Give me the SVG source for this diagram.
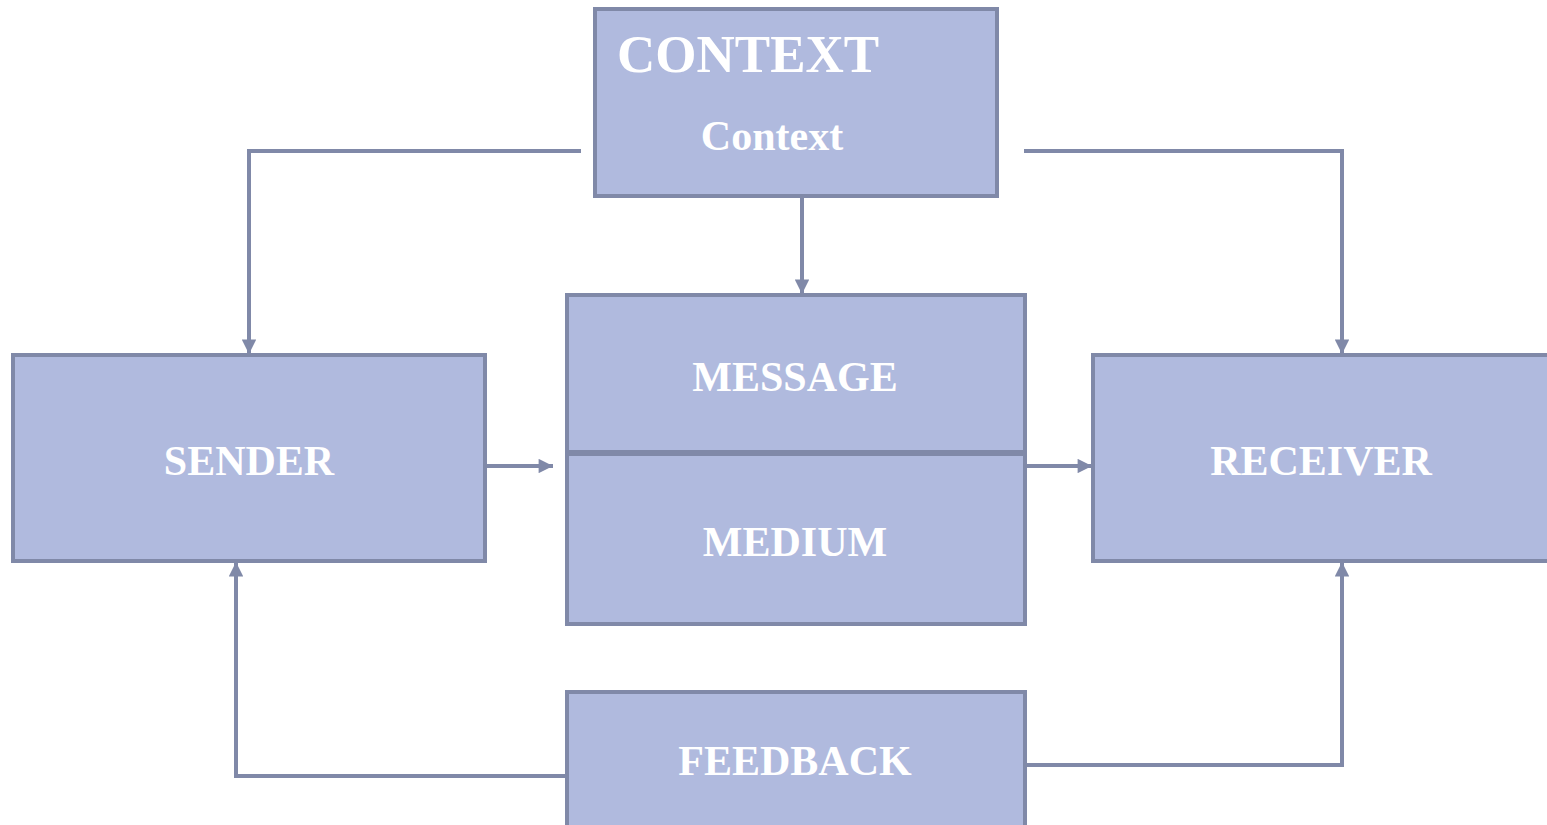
<svg xmlns="http://www.w3.org/2000/svg" width="1547" height="825" viewBox="0 0 1547 825">
<style>
.box{fill:#B0BADE;stroke:#8089A8;stroke-width:4}
.lbl{font-family:"Liberation Serif","Times New Roman",serif;font-weight:bold;fill:#FFFFFF;font-size:42px;text-anchor:middle}
.con{fill:none;stroke:#8089A8;stroke-width:4}
</style>
<defs>
<marker id="arr" viewBox="0 0 10 10" refX="10" refY="5" markerWidth="4" markerHeight="3.6" orient="auto" markerUnits="strokeWidth">
<path d="M0,0 L10,5 L0,10 Z" fill="#8089A8"/>
</marker>
</defs>
<rect width="1547" height="825" fill="#FFFFFF"/>
<g id="connectors">
<polyline class="con" points="581,151 249,151 249,354" marker-end="url(#arr)"/>
<polyline class="con" points="1024,151 1342,151 1342,354" marker-end="url(#arr)"/>
<line class="con" x1="802" y1="198" x2="802" y2="294" marker-end="url(#arr)"/>
<line class="con" x1="487" y1="466" x2="553" y2="466" marker-end="url(#arr)"/>
<line class="con" x1="1027" y1="466" x2="1092" y2="466" marker-end="url(#arr)"/>
<polyline class="con" points="565,776 236,776 236,562" marker-end="url(#arr)"/>
<polyline class="con" points="1027,765 1342,765 1342,562" marker-end="url(#arr)"/>
</g>
<g id="context">
<rect class="box" x="595" y="9" width="402" height="187"/>
<text x="617" y="72" style="font-family:'Liberation Serif','Times New Roman',serif;font-weight:bold;fill:#FFFFFF;font-size:53px">CONTEXT</text>
<text class="lbl" x="772" y="150">Context</text>
</g>
<g id="sender">
<rect class="box" x="13" y="355" width="472" height="206"/>
<text class="lbl" x="249" y="475">SENDER</text>
</g>
<g id="message-medium">
<rect class="box" x="567" y="295" width="458" height="329"/>
<line x1="567" y1="453" x2="1025" y2="453" stroke="#8089A8" stroke-width="6"/>
<text class="lbl" x="795" y="391">MESSAGE</text>
<text class="lbl" x="795" y="556">MEDIUM</text>
</g>
<g id="receiver">
<rect class="box" x="1093" y="355" width="470" height="206"/>
<text class="lbl" x="1321" y="475">RECEIVER</text>
</g>
<g id="feedback">
<rect class="box" x="567" y="692" width="458" height="150"/>
<text class="lbl" x="795" y="775">FEEDBACK</text>
</g>
</svg>
